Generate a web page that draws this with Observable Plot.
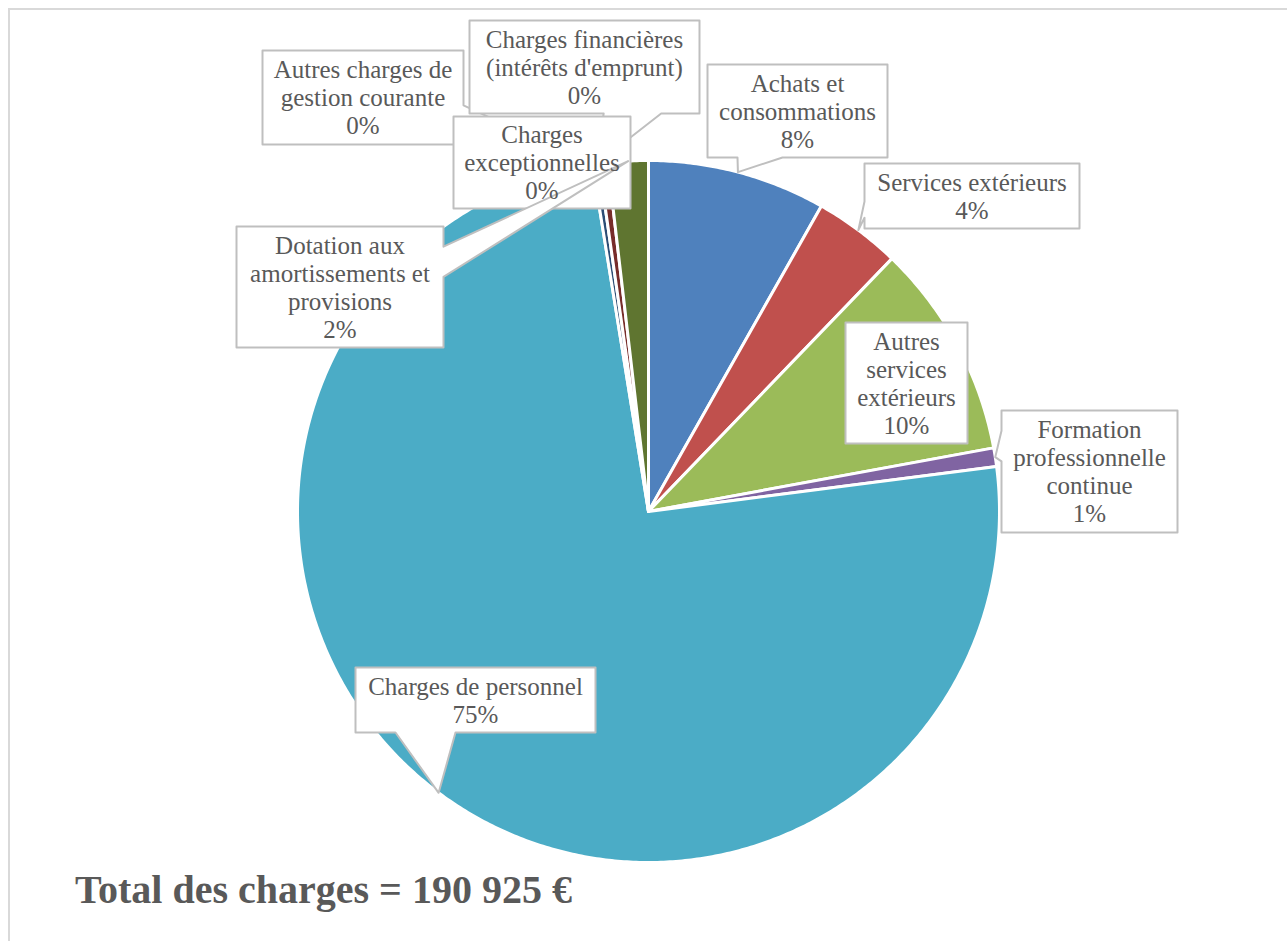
<!DOCTYPE html>
<html>
<head>
<meta charset="utf-8">
<script src="https://cdn.jsdelivr.net/npm/d3@7"></script>
<script src="https://cdn.jsdelivr.net/npm/@observablehq/plot@0.6"></script>
<style>
  html, body { margin: 0; padding: 0; background: #fff; }
  #wrap { position: relative; width: 1287px; height: 941px; overflow: hidden; }
  #frame { position: absolute; left: 8px; top: 8px; width: 1290px; height: 960px; border: 2px solid #D9D9D9; box-sizing: border-box; }
  #chart { position: absolute; left: 0; top: 0; }
  #title { position: absolute; left: 75px; top: 870px; font-family: "Liberation Serif", serif; font-weight: bold; font-size: 40px; line-height: 40px; color: #595959; white-space: nowrap; }
</style>
</head>
<body>
<div id="wrap">
  <div id="frame"></div>
  <div id="chart"></div>
  <div id="title"></div>
</div>
<script>
// ---- data ----
const categories = [
  "Achats et consommations",
  "Services extérieurs",
  "Autres services extérieurs",
  "Formation professionnelle continue",
  "Charges de personnel",
  "Autres charges de gestion courante",
  "Charges financières (intérêts d'emprunt)",
  "Charges exceptionnelles",
  "Dotation aux amortissements et provisions"
];
const amounts = [15655, 7637, 18902, 1623, 142240, 0, 573, 764, 3531];
const labelLines = [
  ["Achats et", "consommations"],
  ["Services extérieurs"],
  ["Autres", "services", "extérieurs"],
  ["Formation", "professionnelle", "continue"],
  ["Charges de personnel"],
  ["Autres charges de", "gestion courante"],
  ["Charges financières", "(intérêts d'emprunt)"],
  ["Charges", "exceptionnelles"],
  ["Dotation aux", "amortissements et", "provisions"]
];
const colors = ["#4F81BD", "#C0504D", "#9BBB59", "#8064A2", "#4BACC6", "#F79646", "#2C4D75", "#772C2A", "#5F7530"];

// ---- layout (pixels) ----
const W = 1287, H = 941;
const CX = 648, CY = 511, R = 351;
// callout boxes [x0, y0, x1, y1]
const boxes = [
  [707, 64, 887, 157],
  [864, 163, 1079, 228],
  [845, 322, 967, 443],
  [1001, 410, 1177, 532],
  [355, 667, 595, 732],
  [262, 50, 463, 144],
  [469, 20, 699, 113],
  [453, 116, 630, 208],
  [236, 226, 443, 347]
];

const total = d3.sum(amounts);
const frFmt = d3.formatLocale({decimal: ",", thousands: " ", grouping: [3], currency: ["", " €"]}).format(",d");
document.getElementById("title").textContent = "Total des charges = " + frFmt(total) + " €";

// slice geometry from values
let cum = 0;
const slices = amounts.map((v, i) => {
  const a0 = cum / total * 2 * Math.PI;
  cum += v;
  const a1 = cum / total * 2 * Math.PI;
  return {i, a0, a1, mid: (a0 + a1) / 2};
});
const pt = (a, r) => [CX + r * Math.sin(a), CY - r * Math.cos(a)];

const slicePts = [];
slices.forEach(s => {
  if (s.a1 - s.a0 <= 0) return;
  const key = categories[s.i];
  slicePts.push({key, x: CX, y: CY});
  const n = Math.max(2, Math.ceil((s.a1 - s.a0) / (Math.PI / 360)));
  for (let k = 0; k <= n; k++) {
    const [x, y] = pt(s.a0 + (s.a1 - s.a0) * k / n, R);
    slicePts.push({key, x, y});
  }
  slicePts.push({key, x: CX, y: CY});
});

// callout polygons
function callout(box, tip) {
  const [x0, y0, x1, y1] = box;
  const [tx, ty] = tip;
  const inside = tx >= x0 && tx <= x1 && ty >= y0 && ty <= y1;
  const TL = [x0, y0], TR = [x1, y0], BR = [x1, y1], BL = [x0, y1];
  if (inside) return [TL, TR, BR, BL, TL];
  const d = {left: x0 - tx, right: tx - x1, top: y0 - ty, bottom: ty - y1};
  let edge = "left", best = -Infinity;
  for (const k in d) if (d[k] > best) { best = d[k]; edge = k; }
  const span = (lo, hi, t) => {
    const L = hi - lo;
    return t < (lo + hi) / 2 ? [lo + L / 6, lo + 5 * L / 12] : [hi - 5 * L / 12, hi - L / 6];
  };
  let pts;
  if (edge === "top") {
    const [a, b] = span(x0, x1, tx);
    pts = [TL, [a, y0], tip, [b, y0], TR, BR, BL, TL];
  } else if (edge === "right") {
    const [a, b] = span(y0, y1, ty);
    pts = [TL, TR, [x1, a], tip, [x1, b], BR, BL, TL];
  } else if (edge === "bottom") {
    const [a, b] = span(x0, x1, tx);
    pts = [TL, TR, BR, [b, y1], tip, [a, y1], BL, TL];
  } else {
    const [a, b] = span(y0, y1, ty);
    pts = [TL, TR, BR, BL, [x0, b], tip, [x0, a], TL];
  }
  return pts;
}

const calloutMarks = [];
const labels = [];
slices.forEach(s => {
  const box = boxes[s.i];
  const tip = pt(s.mid, R);
  const poly = callout(box, tip).map(([x, y]) => ({x, y}));
  calloutMarks.push(Plot.line(poly, {x: "x", y: "y", fill: "white", stroke: "#BFBFBF", strokeWidth: 2, curve: "linear"}));
  const pct = Math.round(amounts[s.i] / total * 100) + "%";
  labels.push({x: (box[0] + box[2]) / 2, y: (box[1] + box[3]) / 2, text: labelLines[s.i].concat([pct]).join("\n")});
});

const sliceMarks = categories.map((c, i) =>
  Plot.line(slicePts.filter(d => d.key === c), {x: "x", y: "y", fill: colors[i], stroke: "white", strokeWidth: 3, strokeLinejoin: "round", curve: "linear"})
);

const chart = Plot.plot({
  width: W,
  height: H,
  margin: 0,
  x: {domain: [0, W], range: [0, W], axis: null},
  y: {domain: [0, H], range: [0, H], axis: null},
  style: {background: "transparent"},
  marks: [
    ...sliceMarks,
    ...calloutMarks,
    Plot.text(labels, {x: "x", y: "y", text: "text", lineAnchor: "middle", textAnchor: "middle",
      fontSize: 25, fontFamily: "Liberation Serif", fill: "#595959", lineHeight: 1.12})
  ]
});
document.getElementById("chart").appendChild(chart);
</script>
</body>
</html>
